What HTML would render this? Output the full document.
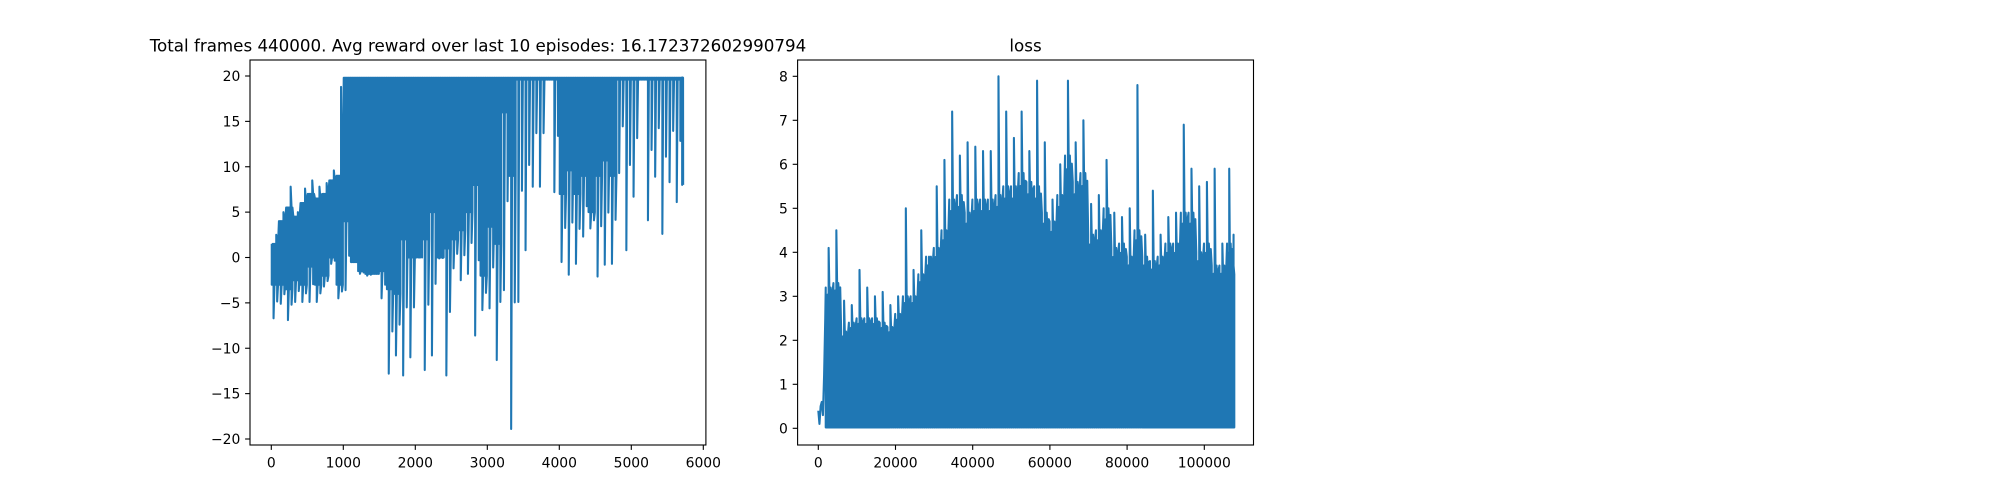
<!DOCTYPE html>
<html><head><meta charset="utf-8">
<style>
html,body{margin:0;padding:0;background:#fff;}
svg{display:block;}
text{font-family:"DejaVu Sans","Liberation Sans",sans-serif;fill:#000;}
</style></head>
<body>
<svg id="fig" width="2000" height="500" viewBox="0 0 2000 500" xmlns="http://www.w3.org/2000/svg">
<rect width="2000" height="500" fill="#fff"/>
<g id="reward"></g>
<g id="loss"></g>
</svg>
<script>
// ---------- Reward chart data (per 100-episode bin) ----------
const rewardTicksX = [0,1000,2000,3000,4000,5000,6000];
const rewardTicksY = [20,15,10,5,0,-5,-10,-15,-20];
const rewardTop  = [1.5,4,5.5,4.5,6,7,6.5,7,8.5,9, 19.8,19.8,19.8,19.8,19.8,19.8,19.8,19.8,19.8,19.8,19.8,19.8,19.8,19.8,19.8,19.8,19.8,19.8,19.8, 19.8,19.8,19.8,19.8,19.8,19.8,19.8,19.8,19.8,19.8,19.8,19.8,19.8,19.8,19.8,19.8,19.8,19.8,19.8,19.8,19.8,19.8,19.8,19.8,19.8,19.8,19.8,19.8,19.8];
const rewardPeak = [2.5,5.0,7.8,5.0,7.6,8.5,7.8,8.2,9.6,18.8, 19.8,19.8,19.8,19.8,19.8,19.8,19.8,19.8,19.8,19.8,19.8,19.8,19.8,19.8,19.8,19.8,19.8,19.8,19.8, 19.8,19.8,19.8,19.8,19.8,19.8,19.8,19.8,19.8,19.8,19.8,19.8,19.8,19.8,19.8,19.8,19.8,19.8,19.8,19.8,19.8,19.8,19.8,19.8,19.8,19.8,19.8,19.8,19.8];
const rewardBase = [-3,-3,-3.5,-2.5,-3,-1,-3,-2,0,-3, 4,-0.5,-1.5,-1.8,-1.8,-1.5,-3.5,-4,2,0,0,2,5,0,1,2,3,5,8, -2,3.4,1.5,16,9,19.6,19.6,19.6,19.6,19.6,19.6,7,9.6,7,9,5,9,10.7,9,19.6,19.6,19.6,19.6,19.6,19.6,19.6,19.6,19.6,19.6];
const rewardDip  = [-6.7,-5.1,-6.9,-4.9,-4.9,-4.9,-4.9,-3.2,-0.7,-4.5, -3.6,-0.5,-1.8,-2,-1.8,-4.5,-12.8,-10.8,-13,-11,1.4,-12.4,-10.8,-0.1,-13,-1.2,-2.5,-1.8,-8.6, -5.8,-5.6,-11.3,-3.6,-18.9,-4.9,0.8,7.8,7.8,19.6,7.2,-0.5,-1.9,-0.7,2.3,3.2,-2.1,-0.8,-0.7,9.3,0.8,6.7,19.6,4.1,8.9,2.6,8.3,6.1,8.0];
const rewardBinSize = 100;
const rewardLastEpisode = 5720;
const rewardLastValue = 8.0;

// ---------- Loss chart data (per 2000-step bin, starting after head) ----------
const lossTicksX = [0,20000,40000,60000,80000,100000];
const lossTicksY = [0,1,2,3,4,5,6,7,8];
const lossHeadSteps = [0,300,600,900,1200,1500,1800];
const lossHeadVals  = [0.4,0.1,0.5,0.6,0.3,1.2,2.5];
const lossBand = [3.2,3.3,2.2,2.4,2.5,2.5,2.5,2.4,2.3,2.6,3.0,3.0,3.5,3.9,4.1,4.5,5.2,5.3,4.9,5.2,5.2,5.2,5.3,5.5,5.5,5.8,5.6,5.5,4.9,4.7,5.3,6.2,5.6,5.8,4.4,4.5,5.0,4.1,4.2,3.9,4.5,3.9,3.8,3.9,4.2,4.2,4.9,4.9,4.0,4.2,3.7,3.7,4.2,3.5];
const lossPeak = [4.1,4.5,2.9,2.8,3.6,3.2,3.0,3.1,2.8,3.0,5.0,3.6,4.5,3.9,5.5,6.1,7.2,6.2,6.5,6.4,6.3,6.3,8.0,7.2,6.6,7.2,6.3,7.9,6.5,5.2,6.0,7.9,6.5,7.0,5.1,5.3,6.1,4.9,4.8,5.0,7.8,4.4,5.4,4.4,4.8,4.9,6.9,5.9,5.5,5.6,5.9,4.2,5.9,4.4];
const lossBinSize = 2000;
const lossLastStep = 107300;
const lossLastValue = 3.1;

const NS = "http://www.w3.org/2000/svg";
function mk(parent, tag, attrs){
  const e = document.createElementNS(NS, tag);
  for (const k in attrs) e.setAttribute(k, attrs[k]);
  parent.appendChild(e);
  return e;
}
const BLUE = "#1f77b4";

function drawAxes(g, box, sx, sy, ticksX, ticksY, title, prefix){
  ticksX.forEach(v=>{
    const x = sx(v);
    const t = mk(g,"line",{x1:x,x2:x,y1:box.y1,y2:box.y1+4.9,stroke:"#000","stroke-width":1.1});
    
    
    const l = mk(g,"text",{x:x,y:box.y1+22.5,"font-size":"13.9px","text-anchor":"middle"});
    l.textContent = String(v);
    
    
  });
  ticksY.forEach(v=>{
    const y = sy(v);
    const t = mk(g,"line",{x1:box.x0-4.9,x2:box.x0,y1:y,y2:y,stroke:"#000","stroke-width":1.1});
    
    
    const l = mk(g,"text",{x:box.x0-9.7,y:y+5,"font-size":"13.9px","text-anchor":"end"});
    l.textContent = v<0 ? "\u2212"+Math.abs(v) : String(v);
    
    
  });
  const fr = mk(g,"rect",{x:box.x0,y:box.y0,width:box.x1-box.x0,height:box.y1-box.y0,fill:"none",stroke:"#000","stroke-width":1.1});
  
  
  const tt = mk(g,"text",{x:(box.x0+box.x1)/2,y:box.y0-8.5,"font-size":"16.7px","text-anchor":"middle"});
  tt.textContent = title;
  
  
}

// ---------- Reward chart ----------
(function(){
  const g = document.getElementById("reward");
  const box = {x0:250, x1:705.9, y0:60, y1:445};
  const sx = v => 271.3 + v*0.072;
  const sy = v => 76 - (v-20)*9.075;
  const S = 8;
  const pts = [];
  for (let i=0;i<rewardTop.length;i++){
    const e0 = i*rewardBinSize;
    const e1 = Math.min((i+1)*rewardBinSize, rewardLastEpisode);
    for (let j=0;j<S;j++){
      const e = e0 + (e1-e0)*(j+0.5)/S;
      const top = (j===5) ? rewardPeak[i] : rewardTop[i];
      let bot = rewardBase[i];
      if (j===2) bot = rewardDip[i];
      else if (j===6) bot = (rewardDip[i]+rewardBase[i])/2;
      if (j%2===0){ pts.push([sx(e),sy(top)]); pts.push([sx(e),sy(bot)]); }
      else { pts.push([sx(e),sy(bot)]); pts.push([sx(e),sy(top)]); }
    }
  }
  pts.push([sx(rewardLastEpisode), sy(rewardLastValue)]);
  const line = mk(g,"polyline",{points:pts.map(p=>p[0].toFixed(2)+","+p[1].toFixed(2)).join(" "),fill:"none",stroke:BLUE,"stroke-width":2.08,"stroke-linejoin":"round"});
  
  
  drawAxes(g, box, sx, sy, rewardTicksX, rewardTicksY, "Total frames 440000. Avg reward over last 10 episodes: 16.172372602990794", "reward");
})();

// ---------- Loss chart ----------
(function(){
  const g = document.getElementById("loss");
  const box = {x0:797.6, x1:1253.5, y0:60, y1:445};
  const sx = v => 818.3 + v*0.00386;
  const sy = v => 428.3 - v*44;
  const S = 8;
  const jag = [1, 0.86, 0.95, 1, 0.9, 1, 0.88, 0.97];
  const pts = [];
  lossHeadSteps.forEach((s,k)=>pts.push([sx(s), sy(lossHeadVals[k])]));
  const start = lossHeadSteps[lossHeadSteps.length-1];
  for (let i=0;i<lossBand.length;i++){
    const s0 = start + i*lossBinSize;
    const s1 = Math.min(s0+lossBinSize, lossLastStep);
    for (let j=0;j<S;j++){
      const s = s0 + (s1-s0)*(j+0.5)/S;
      const top = (j===3) ? lossPeak[i] : lossBand[i]*jag[j];
      if (j%2===0){ pts.push([sx(s),sy(top)]); pts.push([sx(s),sy(0.02)]); }
      else { pts.push([sx(s),sy(0.02)]); pts.push([sx(s),sy(top)]); }
    }
  }
  pts.push([sx(lossLastStep), sy(lossLastValue)]);
  const line = mk(g,"polyline",{points:pts.map(p=>p[0].toFixed(2)+","+p[1].toFixed(2)).join(" "),fill:"none",stroke:BLUE,"stroke-width":2.08,"stroke-linejoin":"round"});
  
  
  drawAxes(g, box, sx, sy, lossTicksX, lossTicksY, "loss", "loss");
})();
</script>
</body></html>
